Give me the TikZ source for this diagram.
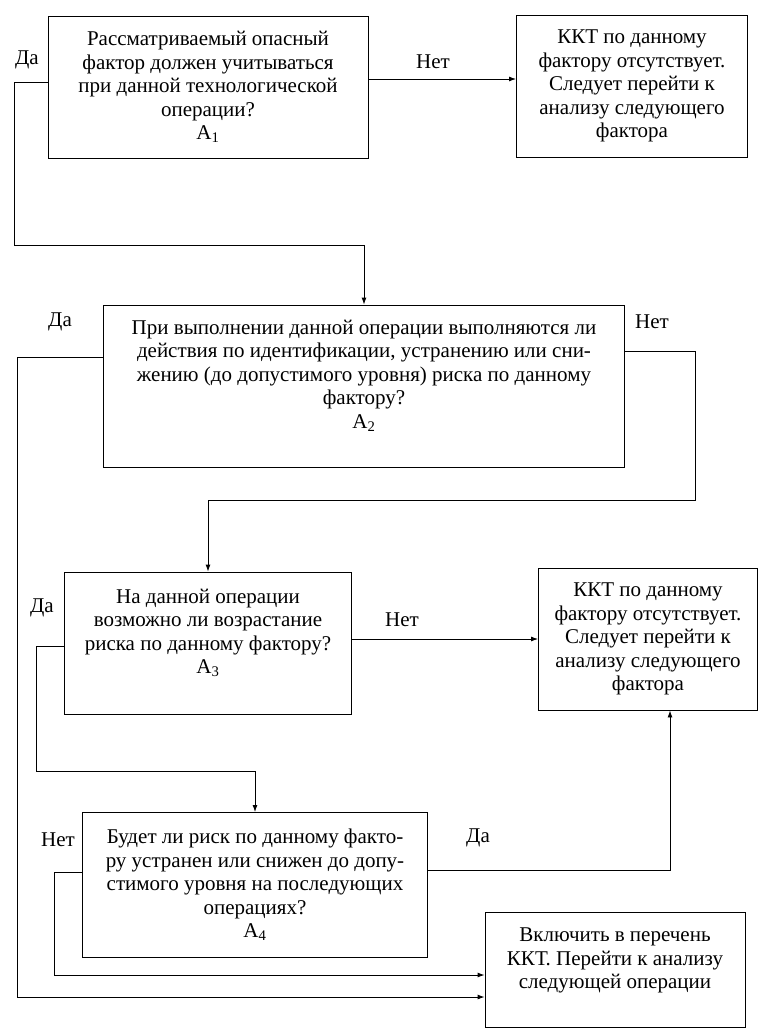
\documentclass[tikz,border=0pt]{standalone}
\usepackage{fontspec}
\setmainfont{Liberation Serif}
\usetikzlibrary{arrows.meta}

\tikzset{
	box/.style={shape=rectangle, draw=black, line width=0.9pt, align=center, inner sep=2pt, font=\fontsize{21}{23.5}\selectfont},
	lab/.style={font=\fontsize{21}{23.5}\selectfont},
	link/.style={line width=0.9pt, -{Latex[length=7pt,width=5pt]}}
}

\begin{document}
\begin{tikzpicture}[x=1pt,y=-1pt]
	\useasboundingbox (0,0) rectangle (759,1030);
	
	\node[box, minimum width=320pt, minimum height=142pt] (a1) at (208,87) {Рассматриваемый опасный\\ фактор должен учитываться\\ при данной технологической\\ операции?\\ A\textsubscript{1}};
	\node[box, minimum width=231pt, minimum height=142pt] (kkt1) at (632,86) {ККТ по данному\\ фактору отсутствует.\\ Следует перейти к\\ анализу следующего\\ фактора};
	\node[box, minimum width=521pt, minimum height=162pt] (a2) at (364,386) {При выполнении данной операции выполняются ли\\ действия по идентификации, устранению или сни-\\ жению (до допустимого уровня) риска по данному\\ фактору?\\ A\textsubscript{2}\\ ~};
	\node[box, minimum width=287pt, minimum height=142pt] (a3) at (208,643) {На данной операции\\ возможно ли возрастание\\ риска по данному фактору?\\ A\textsubscript{3}\\ ~};
	\node[box, minimum width=219pt, minimum height=142pt] (kkt2) at (648,639) {ККТ по данному\\ фактору отсутствует.\\ Следует перейти к\\ анализу следующего\\ фактора};
	\node[box, minimum width=345pt, minimum height=145pt] (a4) at (255,885) {Будет ли риск по данному факто-\\ ру устранен или снижен до допу-\\ стимого уровня на последующих\\ операциях?\\ A\textsubscript{4}};
	\node[box, minimum width=260pt, minimum height=115pt] (b) at (615,970) {Включить в перечень\\ ККТ. Перейти к анализу\\ следующей операции\\ ~};
	
	\node[lab] (da1) at (27,60) {Да};
	\node[lab] (net1) at (433,62) {Нет};
	\node[lab] (da2) at (60,322) {Да};
	\node[lab] (net2) at (652,322) {Нет};
	\node[lab] (da3) at (42,608) {Да};
	\node[lab] (net3) at (402,620) {Нет};
	\node[lab] (net4) at (58,840) {Нет};
	\node[lab] (da4) at (478,838) {Да};
	
	\coordinate (p1) at (14,82);
	\coordinate (p2) at (14,245);
	\coordinate (q1) at (17,997);
	\coordinate (q2) at (695,500);
	\coordinate (q3) at (36,771);
	\coordinate (q4) at (670,870);
	\coordinate (q5) at (54,975);
	
	\draw[link] (a1.west |- p1) -- (p1) -- (p2) -| (a2.north);
	\draw[link] ([yshift=8pt]a1.east) -- ([yshift=7pt]kkt1.west);
	\draw[link] ([yshift=29pt]a2.west) -| (q1) -- (b.west |- q1);
	\draw[link] ([yshift=35pt]a2.east) -| (q2) -| (a3.north);
	\draw[link] ([yshift=4pt]a3.east) -- (kkt2.west);
	\draw[link] ([yshift=-3pt]a3.west) -| (q3) -| (a4.north);
	\draw[link] ([yshift=15pt]a4.east) -| (kkt2.south -| q4);
	\draw[link] ([yshift=13pt]a4.west) -| (q5) -- (b.west |- q5);
	
\end{tikzpicture}
\end{document}
